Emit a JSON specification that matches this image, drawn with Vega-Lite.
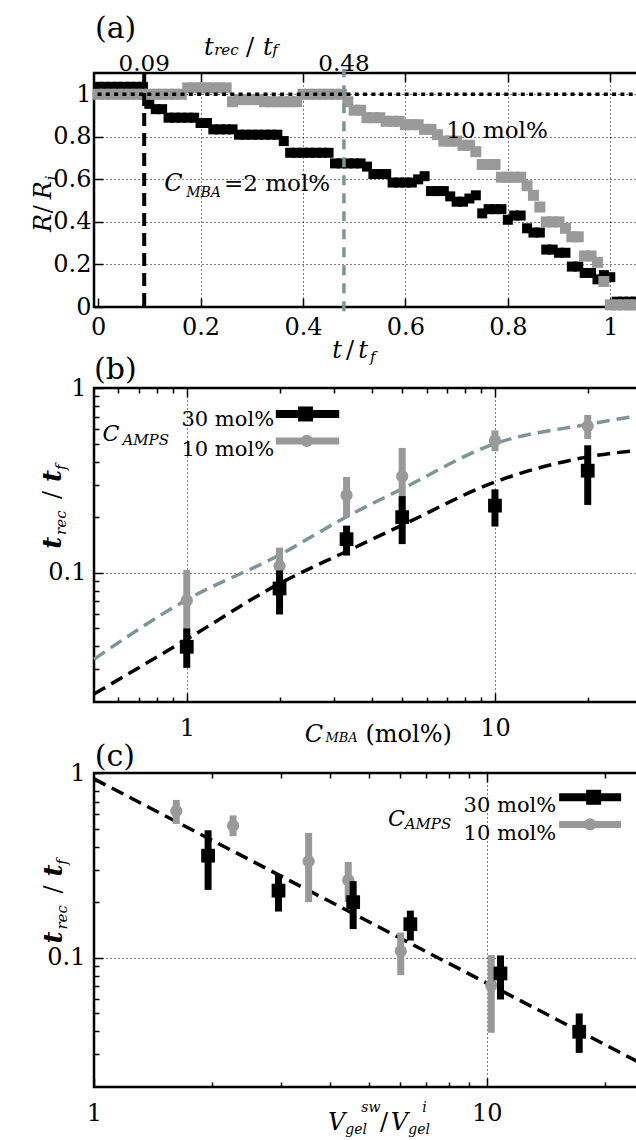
{
  "$schema": "https://vega.github.io/schema/vega-lite/v6.json",
  "background": "white",
  "padding": {"left": 31, "top": 13, "right": 0, "bottom": 0},
  "bounds": "flush",
  "spacing": 81,
  "config": {
    "font": "DejaVu Serif",
    "view": {"stroke": "black", "strokeWidth": 2.5},
    "axis": {"domain": false, "labelFont": "DejaVu Serif", "labelFontSize": 24, "labelColor": "black", "labelFlush": false, "tickColor": "black", "tickWidth": 1.5, "gridColor": "black", "gridDash": [1, 3], "gridWidth": 1, "gridOpacity": 1},
    "text": {"font": "DejaVu Serif", "color": "black"}
  },
  "datasets": {
    "rb": [
      {"t":0,"r":1.035},{"t":0.0125,"r":1.035},{"t":0.025,"r":1.035},{"t":0.0375,"r":1.035},{"t":0.05,"r":1.035},{"t":0.0625,"r":1.035},{"t":0.075,"r":1.035},{"t":0.0875,"r":1.035},
      {"t":0.1,"r":0.955},{"t":0.1125,"r":0.93},{"t":0.125,"r":0.93},{"t":0.1375,"r":0.89},{"t":0.15,"r":0.89},{"t":0.1625,"r":0.89},{"t":0.175,"r":0.89},{"t":0.1875,"r":0.89},
      {"t":0.2,"r":0.865},{"t":0.2125,"r":0.865},{"t":0.225,"r":0.835},{"t":0.2375,"r":0.835},{"t":0.25,"r":0.835},{"t":0.2625,"r":0.835},{"t":0.275,"r":0.81},{"t":0.2875,"r":0.81},
      {"t":0.3,"r":0.81},{"t":0.3125,"r":0.81},{"t":0.325,"r":0.81},{"t":0.3375,"r":0.81},{"t":0.35,"r":0.81},{"t":0.3625,"r":0.78},{"t":0.375,"r":0.725},{"t":0.3875,"r":0.725},
      {"t":0.4,"r":0.725},{"t":0.4125,"r":0.725},{"t":0.425,"r":0.725},{"t":0.4375,"r":0.725},{"t":0.45,"r":0.725},{"t":0.4625,"r":0.675},{"t":0.475,"r":0.675},{"t":0.4875,"r":0.675},
      {"t":0.5,"r":0.675},{"t":0.5125,"r":0.675},{"t":0.525,"r":0.66},{"t":0.5375,"r":0.625},{"t":0.55,"r":0.625},{"t":0.5625,"r":0.625},{"t":0.575,"r":0.585},{"t":0.5875,"r":0.585},
      {"t":0.6,"r":0.585},{"t":0.6125,"r":0.585},{"t":0.625,"r":0.6},{"t":0.6375,"r":0.615},{"t":0.65,"r":0.545},{"t":0.6625,"r":0.545},{"t":0.675,"r":0.545},{"t":0.6875,"r":0.52},
      {"t":0.7,"r":0.495},{"t":0.7125,"r":0.495},{"t":0.725,"r":0.51},{"t":0.7375,"r":0.525},{"t":0.75,"r":0.44},{"t":0.7625,"r":0.46},{"t":0.775,"r":0.46},{"t":0.7875,"r":0.46},
      {"t":0.8,"r":0.41},{"t":0.8125,"r":0.43},{"t":0.825,"r":0.43},{"t":0.8375,"r":0.37},{"t":0.85,"r":0.35},{"t":0.8625,"r":0.35},{"t":0.875,"r":0.27},{"t":0.8875,"r":0.27},
      {"t":0.9,"r":0.255},{"t":0.9125,"r":0.255},{"t":0.925,"r":0.19},{"t":0.9375,"r":0.19},{"t":0.95,"r":0.16},{"t":0.9625,"r":0.16},{"t":0.975,"r":0.13},{"t":0.9875,"r":0.15},
      {"t":1.0,"r":0.14},{"t":1.0125,"r":0.025},{"t":1.025,"r":0.025},{"t":1.0375,"r":0.025},{"t":1.05,"r":0.025}
    ],
    "rg": [
      {"t":0,"r":1.0},{"t":0.0125,"r":1.0},{"t":0.025,"r":1.0},{"t":0.0375,"r":1.0},{"t":0.05,"r":1.0},{"t":0.0625,"r":1.0},{"t":0.075,"r":1.0},{"t":0.0875,"r":1.0},
      {"t":0.1,"r":1.0},{"t":0.1125,"r":1.0},{"t":0.125,"r":1.0},{"t":0.1375,"r":1.0},{"t":0.15,"r":1.0},{"t":0.1625,"r":1.0},{"t":0.175,"r":1.03},{"t":0.1875,"r":1.03},
      {"t":0.2,"r":1.03},{"t":0.2125,"r":1.03},{"t":0.225,"r":1.03},{"t":0.2375,"r":1.03},{"t":0.25,"r":1.03},{"t":0.2625,"r":0.965},{"t":0.275,"r":0.975},{"t":0.2875,"r":0.975},
      {"t":0.3,"r":0.975},{"t":0.3125,"r":0.975},{"t":0.325,"r":0.965},{"t":0.3375,"r":0.965},{"t":0.35,"r":0.965},{"t":0.3625,"r":0.965},{"t":0.375,"r":0.965},{"t":0.3875,"r":0.965},
      {"t":0.4,"r":1.0},{"t":0.4125,"r":1.0},{"t":0.425,"r":1.0},{"t":0.4375,"r":1.0},{"t":0.45,"r":1.0},{"t":0.4625,"r":1.0},{"t":0.475,"r":1.0},{"t":0.4875,"r":0.965},
      {"t":0.5,"r":0.925},{"t":0.5125,"r":0.925},{"t":0.525,"r":0.89},{"t":0.5375,"r":0.89},{"t":0.55,"r":0.89},{"t":0.5625,"r":0.873},{"t":0.575,"r":0.873},{"t":0.5875,"r":0.873},
      {"t":0.6,"r":0.857},{"t":0.6125,"r":0.857},{"t":0.625,"r":0.857},{"t":0.6375,"r":0.835},{"t":0.65,"r":0.835},{"t":0.6625,"r":0.81},{"t":0.675,"r":0.78},{"t":0.6875,"r":0.78},
      {"t":0.7,"r":0.78},{"t":0.7125,"r":0.76},{"t":0.725,"r":0.76},{"t":0.7375,"r":0.73},{"t":0.75,"r":0.67},{"t":0.7625,"r":0.67},{"t":0.775,"r":0.67},{"t":0.7875,"r":0.61},
      {"t":0.8,"r":0.61},{"t":0.8125,"r":0.61},{"t":0.825,"r":0.61},{"t":0.8375,"r":0.57},{"t":0.85,"r":0.525},{"t":0.8625,"r":0.47},{"t":0.875,"r":0.4},{"t":0.8875,"r":0.4},
      {"t":0.9,"r":0.4},{"t":0.9125,"r":0.37},{"t":0.925,"r":0.33},{"t":0.9375,"r":0.33},{"t":0.95,"r":0.24},{"t":0.9625,"r":0.24},{"t":0.975,"r":0.21},{"t":0.9875,"r":0.12},
      {"t":1.0,"r":0.01},{"t":1.0125,"r":0.01},{"t":1.025,"r":0.01},{"t":1.0375,"r":0.01},{"t":1.05,"r":0.01}
    ],
    "pts": [
      {"a":"30","m":1,"v":17.2,"t":0.0398,"lo":0.0306,"hi":0.05},
      {"a":"30","m":2,"v":10.84,"t":0.0823,"lo":0.0595,"hi":0.103},
      {"a":"30","m":3.3,"v":6.39,"t":0.152,"lo":0.124,"hi":0.18},
      {"a":"30","m":5,"v":4.57,"t":0.2,"lo":0.143,"hi":0.26},
      {"a":"30","m":10,"v":2.95,"t":0.231,"lo":0.178,"hi":0.283},
      {"a":"30","m":20,"v":1.952,"t":0.357,"lo":0.233,"hi":0.49},
      {"a":"10","m":1,"v":10.27,"t":0.0709,"lo":0.0393,"hi":0.1035},
      {"a":"10","m":2,"v":6.04,"t":0.1087,"lo":0.0806,"hi":0.137},
      {"a":"10","m":3.3,"v":4.44,"t":0.263,"lo":0.2,"hi":0.33},
      {"a":"10","m":5,"v":3.52,"t":0.333,"lo":0.2,"hi":0.474},
      {"a":"10","m":10,"v":2.26,"t":0.519,"lo":0.455,"hi":0.59},
      {"a":"10","m":20,"v":1.62,"t":0.623,"lo":0.53,"hi":0.715}
    ],
    "fb": [{"m":0.5,"t":0.0221},{"m":1,"t":0.0437},{"m":2,"t":0.0875},{"m":3.28,"t":0.13},{"m":5,"t":0.181},{"m":10,"t":0.31},{"m":20,"t":0.424},{"m":30,"t":0.462}],
    "fg": [{"m":0.5,"t":0.0341},{"m":1,"t":0.0715},{"m":2,"t":0.125},{"m":3.28,"t":0.2},{"m":5,"t":0.285},{"m":10,"t":0.5},{"m":20,"t":0.636},{"m":30,"t":0.713}],
    "fc": [{"v":1,"t":0.93},{"v":25,"t":0.0265}]
  },
  "vconcat": [
    {
      "width": 547, "height": 234,
      "data": {"values": [{}]},
      "resolve": {"axis": {"x": "independent", "y": "independent"}},
      "layer": [
        {"data": {"name": "rb"}, "mark": {"type": "square", "size": 100, "opacity": 1, "color": "black"},
         "encoding": {
           "x": {"field": "t", "type": "quantitative", "scale": {"domain": [-0.008, 1.06], "nice": false, "zero": false},
                 "axis": {"orient": "bottom", "values": [0, 0.2, 0.4, 0.6, 0.8, 1], "format": "~g", "grid": true, "gridOpacity": {"condition": {"test": "datum.value > 0", "value": 1}, "value": 0}, "tickSize": -9, "labelPadding": 17, "title": null}},
           "y": {"field": "r", "type": "quantitative", "scale": {"domain": [0, 1.1], "nice": false, "zero": false},
                 "axis": {"orient": "left", "values": [0, 0.2, 0.4, 0.6, 0.8, 1], "format": "~g", "grid": true, "tickSize": -9, "labelPadding": 12, "title": null}}
         }},
        {"data": {"name": "rg"}, "mark": {"type": "square", "size": 121, "opacity": 1, "color": "#999999"},
         "encoding": {
           "x": {"field": "t", "type": "quantitative", "axis": {"orient": "top", "values": [0.2, 0.4, 0.6, 0.8, 1], "labels": false, "grid": false, "tickSize": -9, "title": null}},
           "y": {"field": "r", "type": "quantitative", "axis": null}
         }},
        {"mark": {"type": "rule", "color": "black", "strokeWidth": 3.5, "strokeDash": [4, 4.3]},
         "encoding": {"y": {"datum": 1, "type": "quantitative", "axis": null}}},
        {"mark": {"type": "rule", "color": "black", "strokeWidth": 4, "strokeDash": [13, 7]},
         "encoding": {"x": {"datum": 0.09, "type": "quantitative", "axis": null}}},
        {"mark": {"type": "rule", "color": "#7b969b", "strokeWidth": 3.5, "strokeDash": [10, 8]},
         "encoding": {"x": {"datum": 0.48, "type": "quantitative", "axis": null}, "y": {"datum": -0.02, "type": "quantitative", "axis": null}, "y2": {"datum": 1.12}}},
        {"mark": {"type": "text", "text": "(a)", "fontSize": 30, "align": "left"}, "encoding": {"x": {"datum": -0.006, "type": "quantitative", "axis": null}, "y": {"datum": 1.305, "type": "quantitative", "axis": null}}},
        {"mark": {"type": "text", "text": "0.09", "fontSize": 23, "align": "center"}, "encoding": {"x": {"datum": 0.09, "type": "quantitative", "axis": null}, "y": {"datum": 1.141, "type": "quantitative", "axis": null}}},
        {"mark": {"type": "text", "text": "0.48", "fontSize": 23, "align": "center"}, "encoding": {"x": {"datum": 0.48, "type": "quantitative", "axis": null}, "y": {"datum": 1.141, "type": "quantitative", "axis": null}}},
        {"mark": {"type": "text", "text": "t", "fontSize": 24, "fontStyle": "italic", "align": "left"}, "encoding": {"x": {"datum": 0.207, "type": "quantitative", "axis": null}, "y": {"datum": 1.216, "type": "quantitative", "axis": null}}},
        {"mark": {"type": "text", "text": "rec", "fontSize": 15, "fontStyle": "italic", "align": "left"}, "encoding": {"x": {"datum": 0.2266, "type": "quantitative", "axis": null}, "y": {"datum": 1.2066, "type": "quantitative", "axis": null}}},
        {"mark": {"type": "text", "text": "/", "fontSize": 24, "align": "left"}, "encoding": {"x": {"datum": 0.289, "type": "quantitative", "axis": null}, "y": {"datum": 1.216, "type": "quantitative", "axis": null}}},
        {"mark": {"type": "text", "text": "t", "fontSize": 24, "fontStyle": "italic", "align": "left"}, "encoding": {"x": {"datum": 0.322, "type": "quantitative", "axis": null}, "y": {"datum": 1.216, "type": "quantitative", "axis": null}}},
        {"mark": {"type": "text", "text": "f", "fontSize": 15, "fontStyle": "italic", "align": "left"}, "encoding": {"x": {"datum": 0.34, "type": "quantitative", "axis": null}, "y": {"datum": 1.2066, "type": "quantitative", "axis": null}}},
        {"mark": {"type": "text", "text": "t", "fontSize": 24, "fontStyle": "italic", "align": "left"}, "encoding": {"x": {"datum": 0.457, "type": "quantitative", "axis": null}, "y": {"datum": -0.2066, "type": "quantitative", "axis": null}}},
        {"mark": {"type": "text", "text": "/", "fontSize": 24, "align": "left"}, "encoding": {"x": {"datum": 0.484, "type": "quantitative", "axis": null}, "y": {"datum": -0.2066, "type": "quantitative", "axis": null}}},
        {"mark": {"type": "text", "text": "t", "fontSize": 24, "fontStyle": "italic", "align": "left"}, "encoding": {"x": {"datum": 0.508, "type": "quantitative", "axis": null}, "y": {"datum": -0.2066, "type": "quantitative", "axis": null}}},
        {"mark": {"type": "text", "text": "f", "fontSize": 15, "fontStyle": "italic", "align": "left"}, "encoding": {"x": {"datum": 0.531, "type": "quantitative", "axis": null}, "y": {"datum": -0.235, "type": "quantitative", "axis": null}}},
        {"mark": {"type": "text", "text": "C", "fontSize": 24, "fontStyle": "italic", "align": "left"}, "encoding": {"x": {"datum": 0.129, "type": "quantitative", "axis": null}, "y": {"datum": 0.577, "type": "quantitative", "axis": null}}},
        {"mark": {"type": "text", "text": "MBA", "fontSize": 14, "fontStyle": "italic", "align": "left"}, "encoding": {"x": {"datum": 0.172, "type": "quantitative", "axis": null}, "y": {"datum": 0.535, "type": "quantitative", "axis": null}}},
        {"mark": {"type": "text", "text": "=2 mol%", "fontSize": 23, "align": "left"}, "encoding": {"x": {"datum": 0.246, "type": "quantitative", "axis": null}, "y": {"datum": 0.577, "type": "quantitative", "axis": null}}},
        {"mark": {"type": "text", "text": "10 mol%", "fontSize": 23, "align": "left"}, "encoding": {"x": {"datum": 0.68, "type": "quantitative", "axis": null}, "y": {"datum": 0.826, "type": "quantitative", "axis": null}}},
        {"mark": {"type": "text", "text": "R", "fontSize": 24, "fontStyle": "italic", "align": "left", "angle": 270}, "encoding": {"x": {"datum": -0.105, "type": "quantitative", "axis": null}, "y": {"datum": 0.352, "type": "quantitative", "axis": null}}},
        {"mark": {"type": "text", "text": "/", "fontSize": 24, "align": "left", "angle": 270}, "encoding": {"x": {"datum": -0.105, "type": "quantitative", "axis": null}, "y": {"datum": 0.441, "type": "quantitative", "axis": null}}},
        {"mark": {"type": "text", "text": "R", "fontSize": 24, "fontStyle": "italic", "align": "left", "angle": 270}, "encoding": {"x": {"datum": -0.105, "type": "quantitative", "axis": null}, "y": {"datum": 0.507, "type": "quantitative", "axis": null}}},
        {"mark": {"type": "text", "text": "i", "fontSize": 15, "fontStyle": "italic", "align": "left", "angle": 270}, "encoding": {"x": {"datum": -0.092, "type": "quantitative", "axis": null}, "y": {"datum": 0.596, "type": "quantitative", "axis": null}}}
      ]
    },
    {
      "bounds": "flush",
      "spacing": 71,
      "vconcat": [
        {
          "width": 548, "height": 314,
          "data": {"values": [{}]},
          "resolve": {"axis": {"x": "independent", "y": "independent"}},
          "layer": [
            {"data": {"name": "fg"}, "mark": {"type": "line", "color": "#7b969b", "strokeWidth": 3.5, "strokeDash": [13, 7], "interpolate": "monotone"},
             "encoding": {
               "x": {"field": "m", "type": "quantitative", "scale": {"type": "log", "domain": [0.5, 30], "nice": false},
                     "axis": {"orient": "bottom", "values": [1, 10], "format": "~g", "grid": true, "tickSize": -9, "labelPadding": 23, "title": null}},
               "y": {"field": "t", "type": "quantitative", "scale": {"type": "log", "domain": [0.02, 1], "nice": false},
                     "axis": {"orient": "left", "values": [0.1, 1], "format": "~g", "grid": true, "tickSize": -9, "labelPadding": 17, "title": null}}
             }},
            {"data": {"name": "fb"}, "mark": {"type": "line", "color": "black", "strokeWidth": 3.5, "strokeDash": [13, 7], "interpolate": "monotone"},
             "encoding": {
               "x": {"field": "m", "type": "quantitative", "axis": {"orient": "bottom", "values": [0.6, 0.7, 0.8, 0.9, 2, 3, 4, 5, 6, 7, 8, 9, 20], "labels": false, "grid": false, "tickSize": -5, "title": null}},
               "y": {"field": "t", "type": "quantitative", "axis": {"orient": "left", "values": [0.03, 0.04, 0.05, 0.06, 0.07, 0.08, 0.09, 0.2, 0.3, 0.4, 0.5, 0.6, 0.7, 0.8, 0.9], "labels": false, "grid": false, "tickSize": -5, "title": null}}
             }},
            {"data": {"name": "pts"}, "transform": [{"filter": "datum.a == '10'"}], "mark": {"type": "rule", "color": "#999999", "strokeWidth": 7},
             "encoding": {
               "x": {"field": "m", "type": "quantitative", "axis": {"orient": "top", "values": [1, 10], "labels": false, "grid": false, "tickSize": -9, "title": null}},
               "y": {"field": "lo", "type": "quantitative", "axis": null}, "y2": {"field": "hi"}
             }},
            {"data": {"name": "pts"}, "transform": [{"filter": "datum.a == '10'"}], "mark": {"type": "circle", "color": "#999999", "size": 150, "opacity": 1},
             "encoding": {
               "x": {"field": "m", "type": "quantitative", "axis": {"orient": "top", "values": [0.6, 0.7, 0.8, 0.9, 2, 3, 4, 5, 6, 7, 8, 9, 20], "labels": false, "grid": false, "tickSize": -5, "title": null}},
               "y": {"field": "t", "type": "quantitative", "axis": null}
             }},
            {"data": {"name": "pts"}, "transform": [{"filter": "datum.a == '30'"}], "mark": {"type": "rule", "color": "black", "strokeWidth": 7},
             "encoding": {"x": {"field": "m", "type": "quantitative", "axis": null}, "y": {"field": "lo", "type": "quantitative", "axis": null}, "y2": {"field": "hi"}}},
            {"data": {"name": "pts"}, "transform": [{"filter": "datum.a == '30'"}], "mark": {"type": "square", "color": "black", "size": 190, "opacity": 1},
             "encoding": {"x": {"field": "m", "type": "quantitative", "axis": null}, "y": {"field": "t", "type": "quantitative", "axis": null}}},
            {"mark": {"type": "rule", "color": "black", "strokeWidth": 8}, "encoding": {"x": {"datum": 1.945, "type": "quantitative", "axis": null}, "x2": {"datum": 3.123}, "y": {"datum": 0.7235, "type": "quantitative", "axis": null}}},
            {"mark": {"type": "square", "color": "black", "size": 225, "opacity": 1}, "encoding": {"x": {"datum": 2.429, "type": "quantitative", "axis": null}, "y": {"datum": 0.7235, "type": "quantitative", "axis": null}}},
            {"mark": {"type": "rule", "color": "#999999", "strokeWidth": 7}, "encoding": {"x": {"datum": 1.945, "type": "quantitative", "axis": null}, "x2": {"datum": 3.123}, "y": {"datum": 0.517, "type": "quantitative", "axis": null}}},
            {"mark": {"type": "circle", "color": "#999999", "size": 150, "opacity": 1}, "encoding": {"x": {"datum": 2.453, "type": "quantitative", "axis": null}, "y": {"datum": 0.517, "type": "quantitative", "axis": null}}},
            {"mark": {"type": "text", "text": "30 mol%", "fontSize": 21, "align": "right"}, "encoding": {"x": {"datum": 1.92, "type": "quantitative", "axis": null}, "y": {"datum": 0.669, "type": "quantitative", "axis": null}}},
            {"mark": {"type": "text", "text": "10 mol%", "fontSize": 21, "align": "right"}, "encoding": {"x": {"datum": 1.92, "type": "quantitative", "axis": null}, "y": {"datum": 0.4605, "type": "quantitative", "axis": null}}},
            {"mark": {"type": "text", "text": "C", "fontSize": 22, "fontStyle": "italic", "align": "left"}, "encoding": {"x": {"datum": 0.5324, "type": "quantitative", "axis": null}, "y": {"datum": 0.5662, "type": "quantitative", "axis": null}}},
            {"mark": {"type": "text", "text": "AMPS", "fontSize": 15, "fontStyle": "italic", "align": "left"}, "encoding": {"x": {"datum": 0.6183, "type": "quantitative", "axis": null}, "y": {"datum": 0.5236, "type": "quantitative", "axis": null}}},
            {"mark": {"type": "text", "text": "(b)", "fontSize": 30, "align": "left"}, "encoding": {"x": {"datum": 0.5, "type": "quantitative", "axis": null}, "y": {"datum": 1.251, "type": "quantitative", "axis": null}}},
            {"mark": {"type": "text", "text": "C", "fontSize": 24, "fontStyle": "italic", "align": "left"}, "encoding": {"x": {"datum": 2.416, "type": "quantitative", "axis": null}, "y": {"datum": 0.0133, "type": "quantitative", "axis": null}}},
            {"mark": {"type": "text", "text": "MBA", "fontSize": 13, "fontStyle": "italic", "align": "left"}, "encoding": {"x": {"datum": 2.817, "type": "quantitative", "axis": null}, "y": {"datum": 0.0127, "type": "quantitative", "axis": null}}},
            {"mark": {"type": "text", "text": "(mol%)", "fontSize": 24, "align": "left"}, "encoding": {"x": {"datum": 3.8, "type": "quantitative", "axis": null}, "y": {"datum": 0.0133, "type": "quantitative", "axis": null}}},
            {"mark": {"type": "text", "text": "t", "fontSize": 26, "fontStyle": "italic", "fontWeight": "bold", "align": "left", "angle": 270}, "encoding": {"x": {"datum": 0.367, "type": "quantitative", "axis": null}, "y": {"datum": 0.1349, "type": "quantitative", "axis": null}}},
            {"mark": {"type": "text", "text": "rec", "fontSize": 15, "fontStyle": "italic", "align": "left", "angle": 270}, "encoding": {"x": {"datum": 0.39, "type": "quantitative", "axis": null}, "y": {"datum": 0.1604, "type": "quantitative", "axis": null}}},
            {"mark": {"type": "text", "text": "/", "fontSize": 24, "align": "left", "angle": 270}, "encoding": {"x": {"datum": 0.367, "type": "quantitative", "axis": null}, "y": {"datum": 0.2512, "type": "quantitative", "axis": null}}},
            {"mark": {"type": "text", "text": "t", "fontSize": 26, "fontStyle": "italic", "fontWeight": "bold", "align": "left", "angle": 270}, "encoding": {"x": {"datum": 0.367, "type": "quantitative", "axis": null}, "y": {"datum": 0.3104, "type": "quantitative", "axis": null}}},
            {"mark": {"type": "text", "text": "f", "fontSize": 15, "fontStyle": "italic", "align": "left", "angle": 270}, "encoding": {"x": {"datum": 0.39, "type": "quantitative", "axis": null}, "y": {"datum": 0.3604, "type": "quantitative", "axis": null}}}
          ]
        },
        {
          "width": 549, "height": 314,
          "data": {"values": [{}]},
          "resolve": {"axis": {"x": "independent", "y": "independent"}},
          "layer": [
            {"data": {"name": "fc"}, "mark": {"type": "line", "color": "black", "strokeWidth": 3.5, "strokeDash": [13, 7]},
             "encoding": {
               "x": {"field": "v", "type": "quantitative", "scale": {"type": "log", "domain": [1, 25], "nice": false},
                     "axis": {"orient": "bottom", "values": [1, 10], "format": "~g", "grid": true, "gridOpacity": {"condition": {"test": "datum.value > 1", "value": 1}, "value": 0}, "tickSize": -9, "labelPadding": 23, "title": null}},
               "y": {"field": "t", "type": "quantitative", "scale": {"type": "log", "domain": [0.02, 1], "nice": false},
                     "axis": {"orient": "left", "values": [0.1, 1], "format": "~g", "grid": true, "tickSize": -9, "labelPadding": 18, "title": null}}
             }},
            {"data": {"name": "pts"}, "transform": [{"filter": "datum.a == '10'"}], "mark": {"type": "rule", "color": "#999999", "strokeWidth": 7},
             "encoding": {
               "x": {"field": "v", "type": "quantitative", "axis": {"orient": "bottom", "values": [2, 3, 4, 5, 6, 7, 8, 9, 20], "labels": false, "grid": false, "tickSize": -5, "title": null}},
               "y": {"field": "lo", "type": "quantitative", "axis": {"orient": "left", "values": [0.03, 0.04, 0.05, 0.06, 0.07, 0.08, 0.09, 0.2, 0.3, 0.4, 0.5, 0.6, 0.7, 0.8, 0.9], "labels": false, "grid": false, "tickSize": -5, "title": null}},
               "y2": {"field": "hi"}
             }},
            {"data": {"name": "pts"}, "transform": [{"filter": "datum.a == '10'"}], "mark": {"type": "circle", "color": "#999999", "size": 150, "opacity": 1},
             "encoding": {
               "x": {"field": "v", "type": "quantitative", "axis": {"orient": "top", "values": [10], "labels": false, "grid": false, "tickSize": -9, "title": null}},
               "y": {"field": "t", "type": "quantitative", "axis": null}
             }},
            {"data": {"name": "pts"}, "transform": [{"filter": "datum.a == '30'"}], "mark": {"type": "rule", "color": "black", "strokeWidth": 7},
             "encoding": {
               "x": {"field": "v", "type": "quantitative", "axis": {"orient": "top", "values": [2, 3, 4, 5, 6, 7, 8, 9, 20], "labels": false, "grid": false, "tickSize": -5, "title": null}},
               "y": {"field": "lo", "type": "quantitative", "axis": null}, "y2": {"field": "hi"}
             }},
            {"data": {"name": "pts"}, "transform": [{"filter": "datum.a == '30'"}], "mark": {"type": "square", "color": "black", "size": 190, "opacity": 1},
             "encoding": {"x": {"field": "v", "type": "quantitative", "axis": null}, "y": {"field": "t", "type": "quantitative", "axis": null}}},
            {"mark": {"type": "rule", "color": "black", "strokeWidth": 8}, "encoding": {"x": {"datum": 15.29, "type": "quantitative", "axis": null}, "x2": {"datum": 21.99}, "y": {"datum": 0.739, "type": "quantitative", "axis": null}}},
            {"mark": {"type": "square", "color": "black", "size": 225, "opacity": 1}, "encoding": {"x": {"datum": 18.72, "type": "quantitative", "axis": null}, "y": {"datum": 0.739, "type": "quantitative", "axis": null}}},
            {"mark": {"type": "rule", "color": "#999999", "strokeWidth": 7}, "encoding": {"x": {"datum": 15.29, "type": "quantitative", "axis": null}, "x2": {"datum": 21.99}, "y": {"datum": 0.5267, "type": "quantitative", "axis": null}}},
            {"mark": {"type": "circle", "color": "#999999", "size": 150, "opacity": 1}, "encoding": {"x": {"datum": 18.34, "type": "quantitative", "axis": null}, "y": {"datum": 0.5267, "type": "quantitative", "axis": null}}},
            {"mark": {"type": "text", "text": "30 mol%", "fontSize": 21, "align": "right"}, "encoding": {"x": {"datum": 15.03, "type": "quantitative", "axis": null}, "y": {"datum": 0.6605, "type": "quantitative", "axis": null}}},
            {"mark": {"type": "text", "text": "10 mol%", "fontSize": 21, "align": "right"}, "encoding": {"x": {"datum": 15.03, "type": "quantitative", "axis": null}, "y": {"datum": 0.4698, "type": "quantitative", "axis": null}}},
            {"mark": {"type": "text", "text": "C", "fontSize": 22, "fontStyle": "italic", "align": "left"}, "encoding": {"x": {"datum": 5.606, "type": "quantitative", "axis": null}, "y": {"datum": 0.566, "type": "quantitative", "axis": null}}},
            {"mark": {"type": "text", "text": "AMPS", "fontSize": 15, "fontStyle": "italic", "align": "left"}, "encoding": {"x": {"datum": 6.18, "type": "quantitative", "axis": null}, "y": {"datum": 0.53, "type": "quantitative", "axis": null}}},
            {"mark": {"type": "text", "text": "(c)", "fontSize": 30, "align": "left"}, "encoding": {"x": {"datum": 1.005, "type": "quantitative", "axis": null}, "y": {"datum": 1.22, "type": "quantitative", "axis": null}}},
            {"mark": {"type": "text", "text": "V", "fontSize": 24, "fontStyle": "italic", "align": "left"}, "encoding": {"x": {"datum": 3.942, "type": "quantitative", "axis": null}, "y": {"datum": 0.0127, "type": "quantitative", "axis": null}}},
            {"mark": {"type": "text", "text": "sw", "fontSize": 14, "fontStyle": "italic", "align": "left"}, "encoding": {"x": {"datum": 4.795, "type": "quantitative", "axis": null}, "y": {"datum": 0.01532, "type": "quantitative", "axis": null}}},
            {"mark": {"type": "text", "text": "gel", "fontSize": 14, "fontStyle": "italic", "align": "left"}, "encoding": {"x": {"datum": 4.365, "type": "quantitative", "axis": null}, "y": {"datum": 0.01175, "type": "quantitative", "axis": null}}},
            {"mark": {"type": "text", "text": "/", "fontSize": 24, "align": "left"}, "encoding": {"x": {"datum": 5.35, "type": "quantitative", "axis": null}, "y": {"datum": 0.0127, "type": "quantitative", "axis": null}}},
            {"mark": {"type": "text", "text": "V", "fontSize": 24, "fontStyle": "italic", "align": "left"}, "encoding": {"x": {"datum": 5.699, "type": "quantitative", "axis": null}, "y": {"datum": 0.0127, "type": "quantitative", "axis": null}}},
            {"mark": {"type": "text", "text": "i", "fontSize": 14, "fontStyle": "italic", "align": "left"}, "encoding": {"x": {"datum": 6.856, "type": "quantitative", "axis": null}, "y": {"datum": 0.01532, "type": "quantitative", "axis": null}}},
            {"mark": {"type": "text", "text": "gel", "fontSize": 14, "fontStyle": "italic", "align": "left"}, "encoding": {"x": {"datum": 6.314, "type": "quantitative", "axis": null}, "y": {"datum": 0.01175, "type": "quantitative", "axis": null}}},
            {"mark": {"type": "text", "text": "t", "fontSize": 26, "fontStyle": "italic", "fontWeight": "bold", "align": "left", "angle": 270}, "encoding": {"x": {"datum": 0.789, "type": "quantitative", "axis": null}, "y": {"datum": 0.1195, "type": "quantitative", "axis": null}}},
            {"mark": {"type": "text", "text": "rec", "fontSize": 15, "fontStyle": "italic", "align": "left", "angle": 270}, "encoding": {"x": {"datum": 0.8267, "type": "quantitative", "axis": null}, "y": {"datum": 0.1422, "type": "quantitative", "axis": null}}},
            {"mark": {"type": "text", "text": "/", "fontSize": 24, "align": "left", "angle": 270}, "encoding": {"x": {"datum": 0.789, "type": "quantitative", "axis": null}, "y": {"datum": 0.2227, "type": "quantitative", "axis": null}}},
            {"mark": {"type": "text", "text": "t", "fontSize": 26, "fontStyle": "italic", "fontWeight": "bold", "align": "left", "angle": 270}, "encoding": {"x": {"datum": 0.789, "type": "quantitative", "axis": null}, "y": {"datum": 0.275, "type": "quantitative", "axis": null}}},
            {"mark": {"type": "text", "text": "f", "fontSize": 15, "fontStyle": "italic", "align": "left", "angle": 270}, "encoding": {"x": {"datum": 0.8267, "type": "quantitative", "axis": null}, "y": {"datum": 0.3193, "type": "quantitative", "axis": null}}}
          ]
        }
      ]
    }
  ]
}
